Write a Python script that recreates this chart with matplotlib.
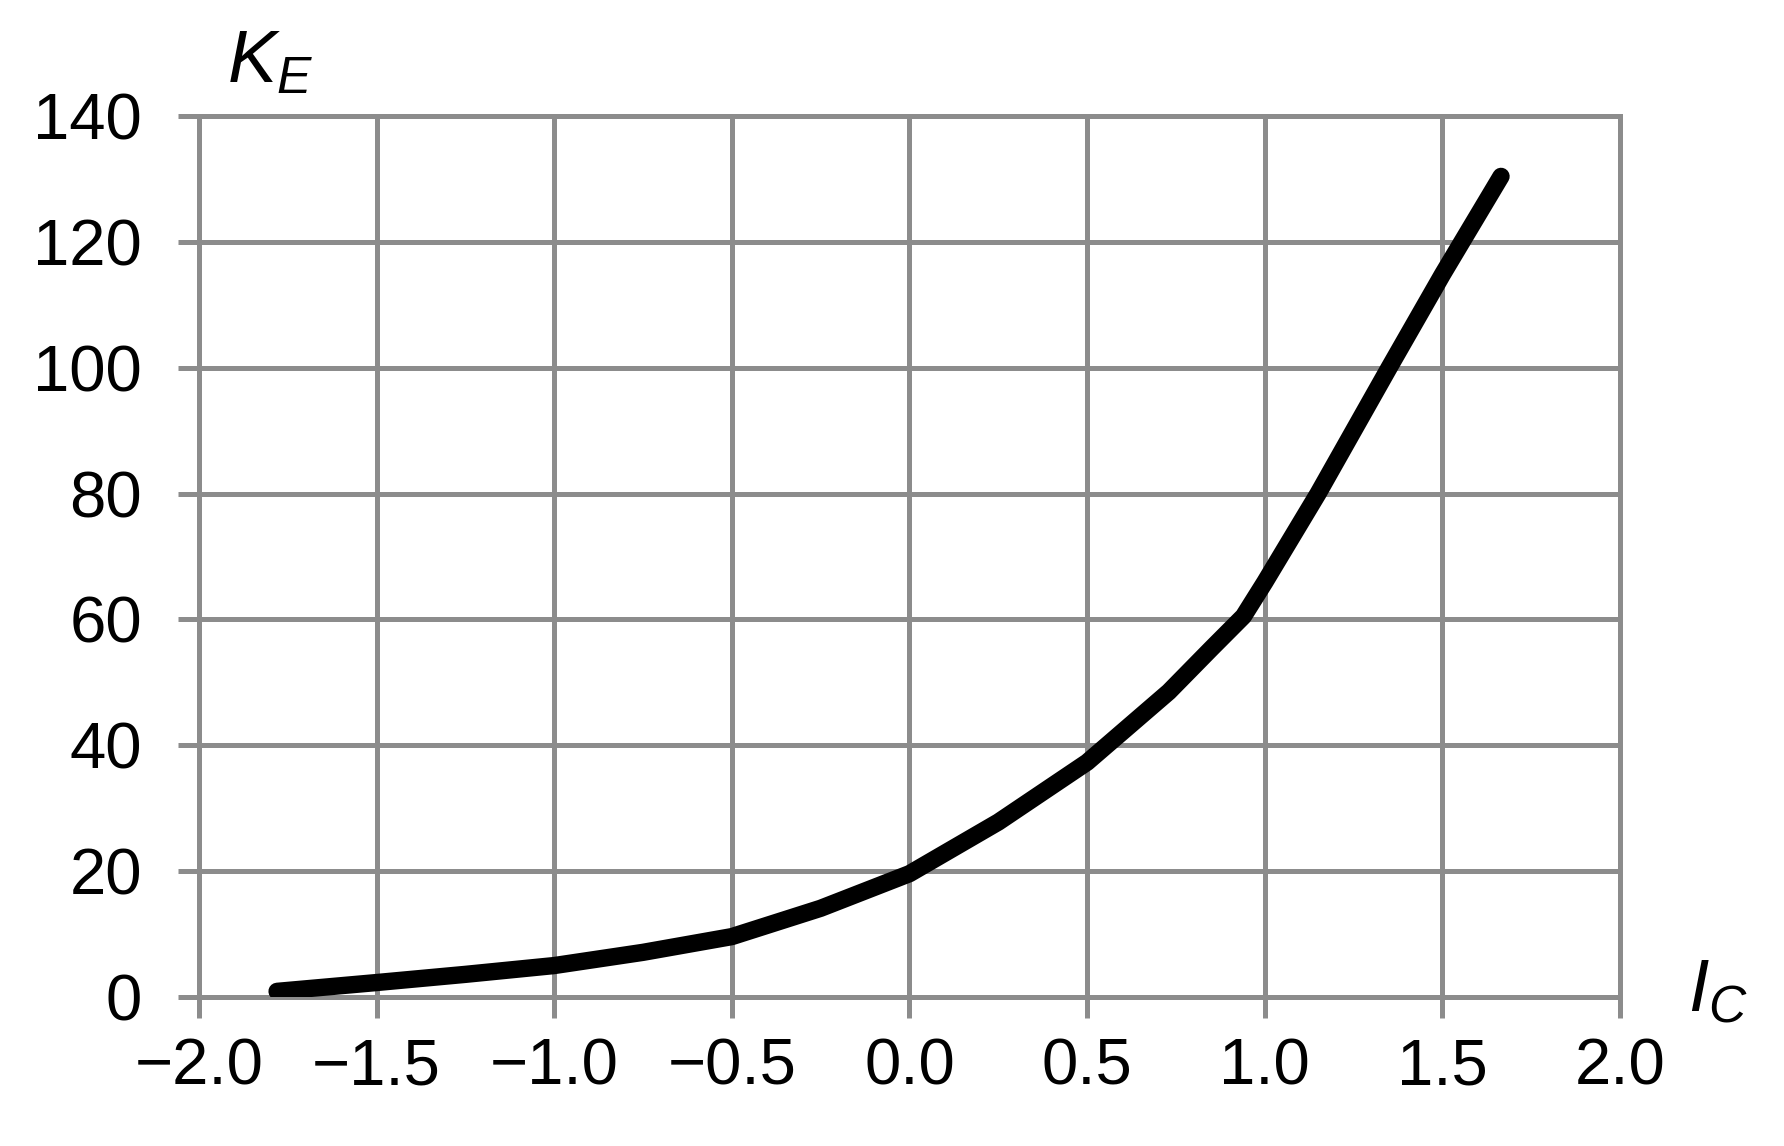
import numpy as np
import matplotlib.pyplot as plt

plt.rcParams["font.family"] = ["Liberation Sans", "DejaVu Sans"]
plt.rcParams["mathtext.fontset"] = "custom"
plt.rcParams["mathtext.it"] = "Liberation Sans:italic"
plt.rcParams["mathtext.rm"] = "Liberation Sans"

# data
ic = [-1.78, -1.5, -1.25, -1.0, -0.75, -0.5, -0.25, 0.0, 0.25, 0.5,
      0.73, 0.85, 0.94, 1.0, 1.15, 1.35, 1.5, 1.665]
ke = [0.9, 2.3, 3.6, 5.0, 7.1, 9.6, 14.1, 19.6, 27.8, 37.3,
      48.5, 55.4, 60.5, 65.9, 80.0, 100.0, 114.8, 130.4]

xticks = np.arange(-2.0, 2.01, 0.5)
yticks = np.arange(0, 141, 20)

grid_col = "#8c8c8c"
gw = 3.6

fig = plt.figure(figsize=(17.84, 11.46), dpi=100)
ax = fig.add_axes([0.1115, 0.130, 0.7966, 0.7688])

ax.plot(ic, ke, color="black", linewidth=12.5, solid_capstyle="round",
        solid_joinstyle="round", zorder=3)

ax.set_xlim(-2, 2)
ax.set_ylim(0, 140)
ax.set_xticks(xticks)
ax.set_yticks(yticks)
ax.set_xticklabels([f"{v:.1f}".replace("-", "\u2212") for v in xticks])
ax.set_yticklabels([str(v) for v in yticks])

ax.grid(True, color=grid_col, linewidth=gw)
for s in ax.spines.values():
    s.set_color(grid_col)
    s.set_linewidth(gw)

ax.tick_params(axis="both", colors=grid_col, width=gw, length=15,
               labelcolor="black", labelsize=47)
ax.tick_params(axis="x", pad=14)
ax.tick_params(axis="y", pad=26)

fig.text(227 / 1784, 1 - 82 / 1146, "$K_E$", fontsize=53, va="baseline", ha="left")
fig.text(1688 / 1784, 1 - 1011 / 1146, "$I_C$", fontsize=53, va="baseline", ha="left")

fig.savefig("out.png", dpi=100)
